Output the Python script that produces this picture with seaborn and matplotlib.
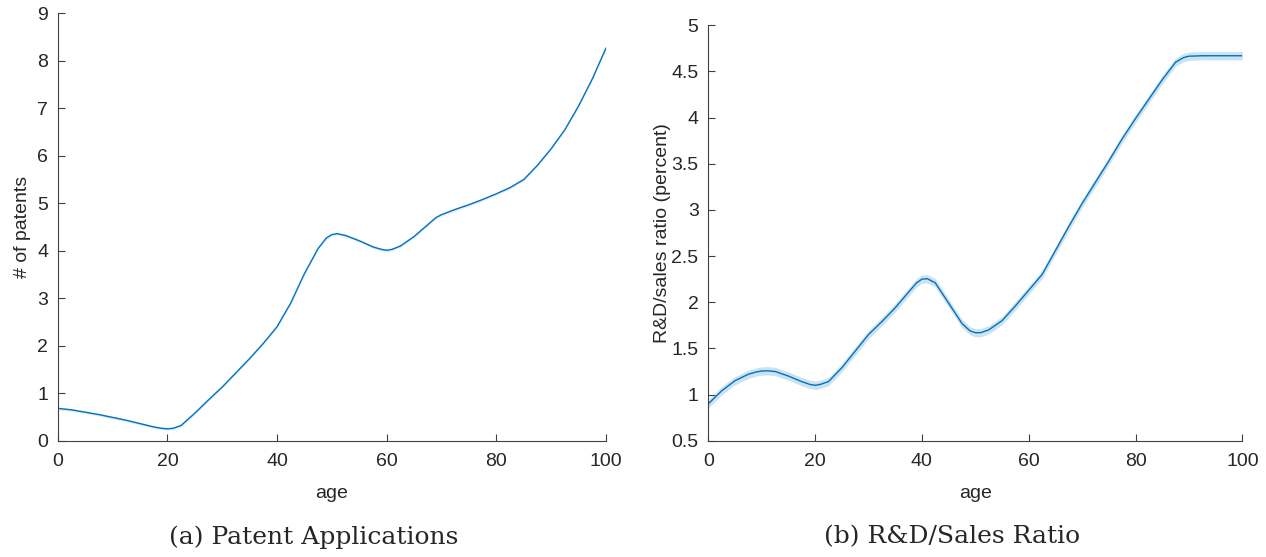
import numpy as np
import pandas as pd
import matplotlib
matplotlib.use("Agg")
import matplotlib.pyplot as plt
import seaborn as sns

# Datos
age_pat = [0, 2.5, 5, 7.5, 10, 12.5, 15, 17.5, 19, 20, 21, 22.5, 25, 27.5, 30, 32.5, 35,
           37.5, 40, 42.5, 45, 47.5, 49, 50, 51, 52.5, 55, 57.5, 59, 60, 61, 62.5, 65, 67.5,
           69, 70, 72.5, 75, 77.5, 80, 82.5, 85, 87.5, 90, 92.5, 95, 97.5, 100]
patents = [0.68, 0.65, 0.60, 0.55, 0.49, 0.43, 0.36, 0.29, 0.26, 0.25, 0.26, 0.32, 0.58,
           0.86, 1.13, 1.43, 1.73, 2.05, 2.40, 2.90, 3.52, 4.05, 4.27, 4.34, 4.36, 4.32,
           4.21, 4.08, 4.03, 4.01, 4.03, 4.10, 4.30, 4.55, 4.70, 4.76, 4.87, 4.97, 5.08,
           5.20, 5.33, 5.50, 5.80, 6.15, 6.55, 7.05, 7.62, 8.27]
patents_band = 0.03

age_rd = [0, 2.5, 5, 7.5, 9, 10, 11, 12.5, 15, 17.5, 19, 20, 21, 22.5, 25, 27.5, 30, 32.5,
          35, 37.5, 39, 40, 41, 42.5, 45, 47.5, 49, 50, 51, 52.5, 55, 57.5, 60, 62.5, 65,
          67.5, 70, 72.5, 75, 77.5, 80, 82.5, 85, 87.5, 89, 90, 92.5, 95, 97.5, 100]
rd_ratio = [0.90, 1.04, 1.15, 1.22, 1.245, 1.255, 1.257, 1.25, 1.20, 1.14, 1.11, 1.10,
            1.11, 1.14, 1.29, 1.47, 1.65, 1.79, 1.94, 2.11, 2.21, 2.25, 2.255, 2.21, 1.99,
            1.77, 1.69, 1.67, 1.67, 1.70, 1.80, 1.96, 2.13, 2.30, 2.56, 2.82, 3.07, 3.30,
            3.53, 3.77, 3.99, 4.20, 4.41, 4.60, 4.65, 4.665, 4.67, 4.67, 4.67, 4.67]
rd_band = 0.045

blue = "#0072BD"
dark = "#262626"

sns.set_style("white")
plt.rcParams['font.family'] = ['Liberation Sans', 'DejaVu Sans']

fig = plt.figure(figsize=(12.66, 5.57), dpi=100)
ax1 = fig.add_axes([0.0456, 0.2088, 0.4331, 0.7673])
ax2 = fig.add_axes([0.5595, 0.2088, 0.4218, 0.7458])

df1 = pd.DataFrame({'age': age_pat, 'patents': patents})
df2 = pd.DataFrame({'age': age_rd, 'ratio': rd_ratio})

ax1.fill_between(df1['age'], df1['patents'] - patents_band, df1['patents'] + patents_band,
                 color=blue, alpha=0.12, lw=0)
sns.lineplot(data=df1, x='age', y='patents', ax=ax1, color=blue, lw=1.0)

ax2.fill_between(df2['age'], df2['ratio'] - rd_band, df2['ratio'] + rd_band,
                 color=blue, alpha=0.2, lw=0)
sns.lineplot(data=df2, x='age', y='ratio', ax=ax2, color=blue, lw=1.0)

ax1.set_xlim(0, 100)
ax1.set_ylim(0, 9)
ax1.set_yticks(range(0, 10))
ax1.set_ylabel('# of patents', fontsize=14, color=dark, labelpad=4)

ax2.set_xlim(0, 100)
ax2.set_ylim(0.5, 5)
ax2.set_yticks(np.arange(0.5, 5.01, 0.5))
ax2.set_yticklabels(['0.5', '1', '1.5', '2', '2.5', '3', '3.5', '4', '4.5', '5'])
ax2.set_ylabel('R&D/sales ratio (percent)', fontsize=14, color=dark, labelpad=0)

for ax in (ax1, ax2):
    ax.set_xticks(range(0, 101, 20))
    ax.set_xlabel('age', fontsize=14, color=dark, labelpad=11)
    sns.despine(ax=ax)
    for side in ('left', 'bottom'):
        ax.spines[side].set_color('#404040')
        ax.spines[side].set_linewidth(0.8)
    ax.tick_params(direction='in', length=5, width=0.8, labelsize=14,
                   color='#404040', labelcolor=dark, left=True, bottom=True)
    ax.tick_params(axis='x', pad=9)
    ax.tick_params(axis='y', pad=7)

fig.text(0.248, 0.036, '(a) Patent Applications', ha='center', va='center',
         fontsize=18, family=['DejaVu Serif'])
fig.text(0.752, 0.036, '(b) R&D/Sales Ratio', ha='center', va='center',
         fontsize=18, family=['DejaVu Serif'])

plt.savefig('out.png', dpi=100)
